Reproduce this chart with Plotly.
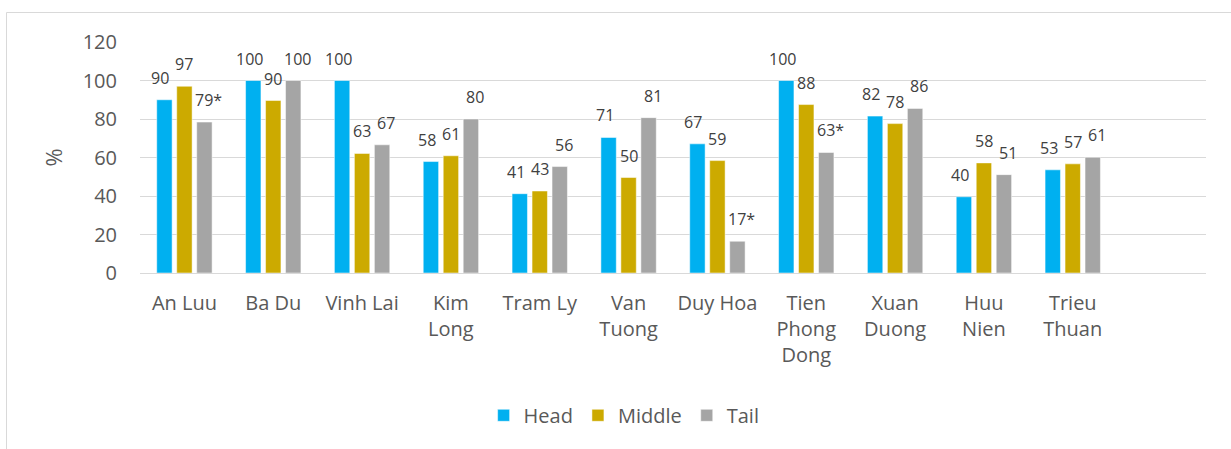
import plotly.graph_objects as go

categories = ["An Luu", "Ba Du", "Vinh Lai", "Kim<br>Long", "Tram Ly", "Van<br>Tuong",
              "Duy Hoa", "Tien<br>Phong<br>Dong", "Xuan<br>Duong", "Huu<br>Nien", "Trieu<br>Thuan"]

head = [90, 100, 100, 57.9, 41.2, 70.4, 67.1, 100, 81.5, 39.6, 53.6]
middle = [97, 89.6, 62.1, 60.9, 42.6, 49.6, 58.4, 87.5, 77.6, 57.2, 56.7]
tail = [78.4, 100, 66.6, 80, 55.3, 80.7, 16.5, 62.6, 85.5, 51.1, 60.1]

head_labels = ["90", "100", "100", "58", "41", "71", "67", "100", "82", "40", "53"]
middle_labels = ["97", "90", "63", "61", "43", "50", "59", "88", "78", "58", "57"]
tail_labels = ["79*", "100", "67", "80", "56", "81", "17*", "63*", "86", "51", "61"]

y_ticks = [0, 20, 40, 60, 80, 100, 120]

series = [
    ("Head", head, head_labels, "#00B0F0", -24),
    ("Middle", middle, middle_labels, "#CCAA00", 0),
    ("Tail", tail, tail_labels, "#A5A5A5", 24),
]

TXT = "#595959"
FONT = "Open Sans"

fig = go.Figure()
annotations = []
for name, vals, labels, color, xs in series:
    fig.add_trace(go.Bar(
        x=categories, y=vals, name=name,
        marker=dict(color=color, line=dict(color="white", width=0.5)),
    ))
    for c, v, t in zip(categories, vals, labels):
        annotations.append(dict(
            x=c, y=v, text=t, showarrow=False, xref="x", yref="y",
            yshift=22, xshift=xs, yanchor="middle", xanchor="center",
            font=dict(family=FONT, size=16, color="#404040"),
        ))

W, H = 1231, 449
L, R, T, B = 140, 25, 42, 176
pw = W - L - R
ph = H - T - B

fig.update_layout(
    width=W, height=H,
    margin=dict(l=L, r=R, t=T, b=B, autoexpand=False),
    paper_bgcolor="white", plot_bgcolor="white",
    barmode="group", bargap=0.325, bargroupgap=0.23,
    font=dict(family=FONT, size=20, color=TXT),
    showlegend=True,
    legend=dict(
        orientation="h", xref="container", x=0.507, xanchor="center",
        yref="paper", y=(272.7 - 415) / ph, yanchor="middle",
        font=dict(family=FONT, size=20, color=TXT),
        itemwidth=30, traceorder="normal",
    ),
    annotations=annotations,
    shapes=[dict(
        type="rect", xref="paper", yref="paper",
        x0=(6.5 - L) / pw, x1=(W + 20 - L) / pw,
        y0=-(H + 20 - (H - B)) / ph, y1=(H - B - 12.5) / ph,
        line=dict(color="#D9D9D9", width=1), fillcolor="rgba(0,0,0,0)", layer="below",
    )],
)

fig.update_xaxes(
    type="category", categoryorder="array", categoryarray=categories,
    range=[-0.5, 11.5], showgrid=False, showline=False, zeroline=False,
    ticks="", ticklabelstandoff=16, tickangle=0,
    tickfont=dict(family=FONT, size=20, color=TXT),
)
fig.update_yaxes(
    range=[0, 120], tickvals=y_ticks, showgrid=True, gridcolor="#D9D9D9", gridwidth=1,
    zeroline=True, zerolinecolor="#D9D9D9", zerolinewidth=1, showline=False,
    ticks="", ticklabelstandoff=22,
    tickfont=dict(family=FONT, size=20, color=TXT),
    title=dict(text="%", font=dict(family=FONT, size=22, color=TXT), standoff=13),
)

fig.write_html("out.html")
